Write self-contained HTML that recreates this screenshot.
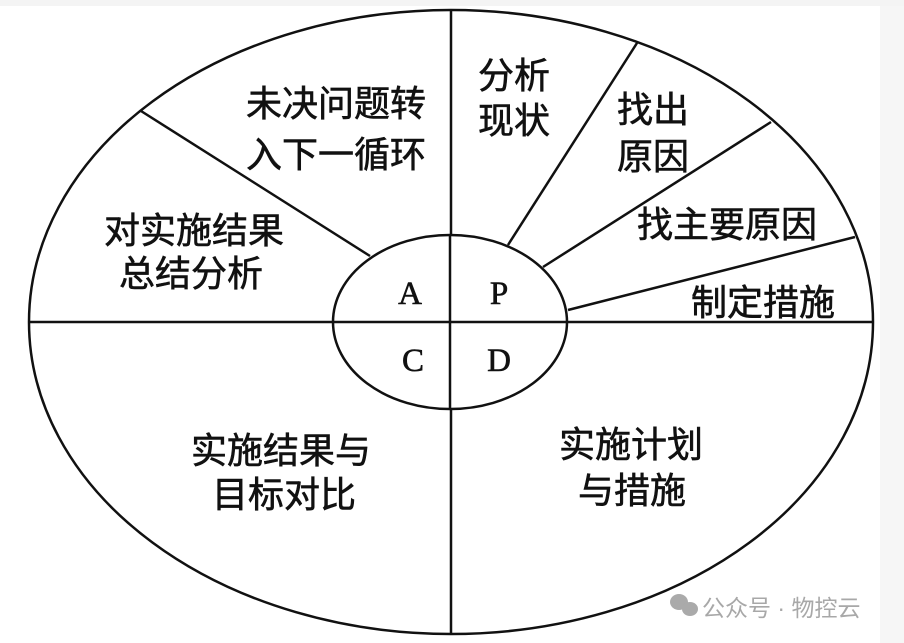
<!DOCTYPE html>
<html><head><meta charset="utf-8"><style>
html,body{margin:0;padding:0;background:#fff;}
svg{display:block;}
</style></head><body>
<svg width="904" height="643" viewBox="0 0 904 643" xmlns="http://www.w3.org/2000/svg">
<rect x="0" y="0" width="904" height="643" fill="#fff"/>
<rect x="880" y="0" width="24" height="643" fill="#f6f6f6"/>
<rect x="0" y="0" width="904" height="6" fill="#f4f4f4"/>
<g stroke="#111" stroke-width="2.5" fill="none">
<ellipse cx="451" cy="322" rx="422" ry="312"/>
<line x1="451" y1="10" x2="451" y2="634"/>
<line x1="29" y1="322" x2="873" y2="322"/>
<ellipse cx="450" cy="322" rx="117" ry="87" fill="#fff"/>
<line x1="141" y1="111" x2="370" y2="256"/>
<line x1="508" y1="245" x2="637" y2="43"/>
<line x1="543" y1="267" x2="771" y2="122"/>
<line x1="568" y1="310" x2="855" y2="237"/>
</g>
<line x1="450" y1="235" x2="450" y2="409" stroke="#111" stroke-width="2.5"/>
<line x1="333" y1="322" x2="567" y2="322" stroke="#111" stroke-width="2.5"/>
<g font-family="'Liberation Sans','Noto Sans CJK SC',sans-serif" font-size="36" fill="#111" stroke="#111" stroke-width="0.6">
<text x="246" y="116">未决问题转</text>
<text x="246" y="167">入下一循环</text>
<text x="478" y="88">分析</text>
<text x="478" y="133">现状</text>
<text x="617" y="122">找出</text>
<text x="617" y="169">原因</text>
<text x="637" y="237">找主要原因</text>
<text x="691" y="315">制定措施</text>
<text x="104" y="243">对实施结果</text>
<text x="119" y="286">总结分析</text>
<text x="191" y="463">实施结果与</text>
<text x="212" y="507">目标对比</text>
<text x="559" y="457">实施计划</text>
<text x="578" y="503">与措施</text>
</g>
<g font-family="'Liberation Serif',serif" font-size="33" fill="#111" stroke="#111" stroke-width="0.6" text-anchor="middle">
<text x="410" y="304">A</text>
<text x="499" y="304">P</text>
<text x="413" y="371">C</text>
<text x="499" y="371">D</text>
</g>
<g fill="#aaa">
<ellipse cx="679" cy="602" rx="9" ry="8"/>
<ellipse cx="690" cy="609" rx="8" ry="7"/>
</g>
<text x="702" y="616" font-family="'Liberation Sans','Noto Sans CJK SC',sans-serif" font-size="23" fill="#a8a8a8">公众号 · 物控云</text>
</svg>
</body></html>
